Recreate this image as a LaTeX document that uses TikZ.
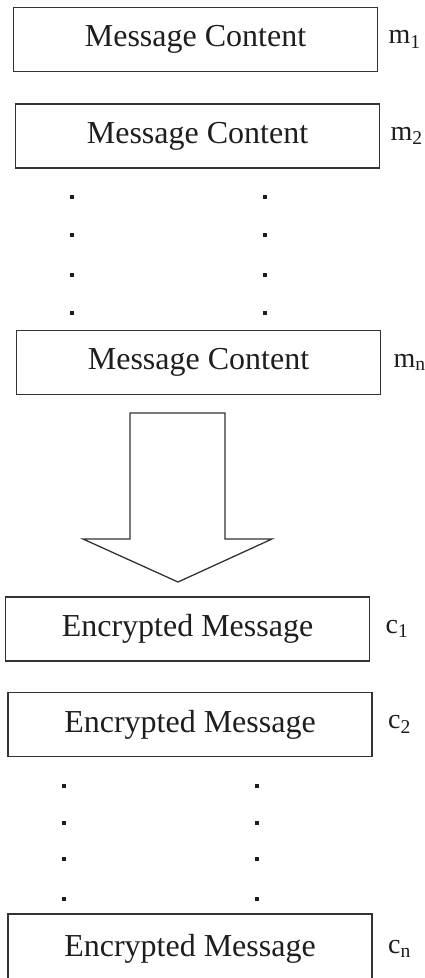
\documentclass[tikz,border=0pt]{standalone}
\usepackage{fontspec}
\setmainfont{Liberation Serif}
\usetikzlibrary{positioning}
\definecolor{figink}{HTML}{1E1E1E}
\definecolor{figline}{HTML}{333333}

\begin{document}
\begin{tikzpicture}[x=1pt, y=-1pt, font=\fontsize{32}{36}\selectfont,
  msgbox/.style={draw=figline, line width=1.5pt, minimum width=364pt, minimum height=64pt,
                 inner sep=0pt, outer sep=0pt, text=figink},
  lbl/.style={font=\fontsize{28}{32}\selectfont, text=figink, inner sep=0pt, anchor=west},
  dotmark/.style={fill=figink}]
\useasboundingbox (0,0) rectangle (425,978);
% plain message blocks
\node[msgbox] (m1) at (195.5,39.5) {Message Content};
\node[msgbox] (m2) at (197.5,136)  {Message Content};
\node[msgbox] (mn) at (198.5,362.5) {Message Content};
\node[lbl, right=11pt of m1] {m\textsubscript{1}};
\node[lbl, right=11pt of m2] {m\textsubscript{2}};
\node[lbl, right=13pt of mn] {m\textsubscript{n}};
% encrypted blocks
\node[msgbox] (c1) at (187.5,629) {Encrypted Message};
\node[msgbox] (c2) at (190,724.5) {Encrypted Message};
\node[msgbox, minimum height=70pt] (cn) at (190,949) {Encrypted Message};
\node[lbl, right=16pt of c1] {c\textsubscript{1}};
\node[lbl, right=16pt of c2] {c\textsubscript{2}};
\node[lbl, right=16pt of cn] {c\textsubscript{n}};
% vertical ellipses
\foreach \y in {197,235,275,313} {
  \fill[dotmark] (70,\y-2) rectangle ++(4,4);
  \fill[dotmark] (263,\y-2) rectangle ++(4,4);
}
\foreach \y in {786,823,859,899} {
  \fill[dotmark] (62,\y-2) rectangle ++(4,4);
  \fill[dotmark] (255,\y-2) rectangle ++(4,4);
}
% big block arrow
\draw[figline, line width=1.3pt, line join=miter]
  (130,413) -- (225,413) -- (225,539) -- (272,539) -- (178,582)
  -- (83,539) -- (130,539) -- cycle;
\end{tikzpicture}
\end{document}
